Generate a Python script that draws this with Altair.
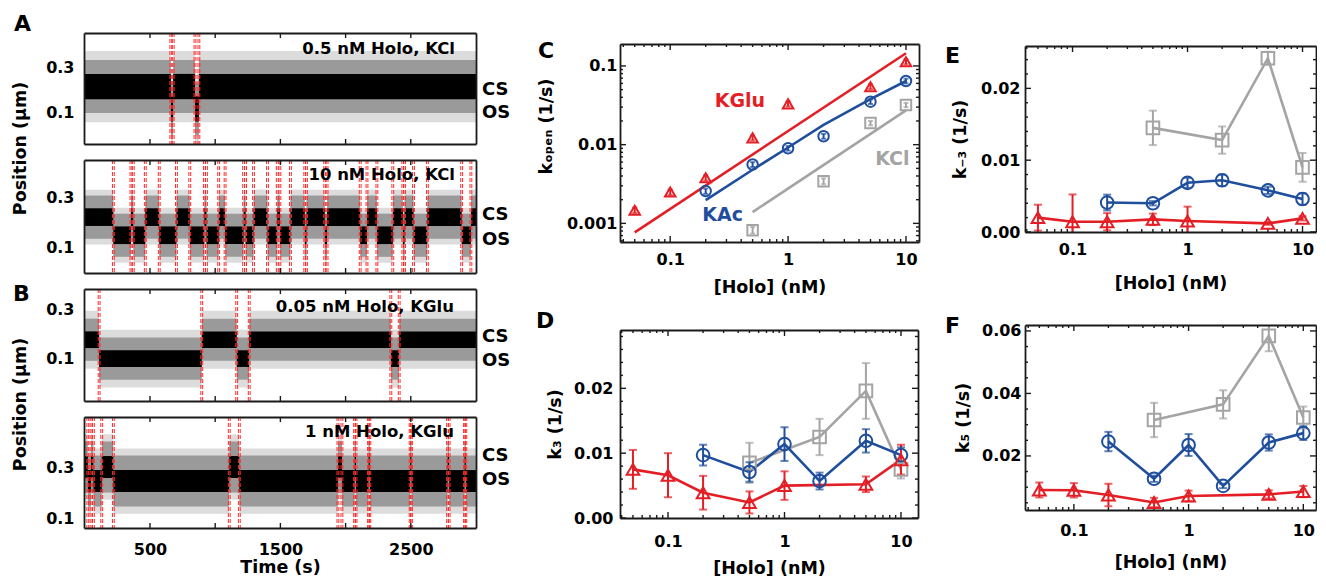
import altair as alt
import pandas as pd

FONT = "DejaVu Sans"
RED = "#e31e25"
BLUE = "#1f4e9d"
GRAY = "#a4a4a4"
TRACE_LIGHT = "#dcdcdc"
TRACE_MID = "#9a9a9a"
SWITCH_RED = "#ff2a2a"
FRAME = "#1a1a1a"

# ---------------- single-molecule traces (A, B) ----------------
TIME_DOMAIN = [-6, 3000]
trace_titles = ["0.5 nM Holo, KCl", "10 nM Holo, KCl", "0.05 nM Holo, KGlu", "1 nM Holo, KGlu"]
# state switch times (s); each trace starts in the closed state (CS) and alternates
switch_a1 = [660, 678, 845, 875]
switch_a2 = [219, 354, 372, 464, 571, 703, 805, 917, 933, 1027, 1076, 1218, 1233, 1294,
             1401, 1476, 1496, 1577, 1687, 1700, 1840, 1858, 2112, 2164, 2240, 2362, 2439,
             2452, 2521, 2627, 2890, 2961]
switch_b1 = [110, 897, 1165, 1261, 2347, 2411]
switch_b2 = [23, 48, 66, 130, 219, 1108, 1185, 1941, 1972, 2069, 2080, 2176, 2186, 2495,
             2505, 2782, 2794, 2912, 2922]
cs_level = [0.215, 0.222, 0.175, 0.300]
os_level = [0.118, 0.148, 0.098, 0.245]
black_half = [0.055, 0.036, 0.034, 0.043]
gray_half = [0.115, 0.088, 0.086, 0.100]
light_half = [0.155, 0.112, 0.118, 0.128]
cs_text_y = [0.200, 0.230, 0.185, 0.344]
os_text_y = [0.100, 0.130, 0.089, 0.249]
trace_y_domain = [[-0.035, 0.448], [-0.006, 0.455], [-0.075, 0.382], [0.061, 0.496]]
trace_y_ticks = [0.1, 0.3]
time_ticks = [500, 1000, 1500, 2000, 2500]
time_labels = [500, 1500, 2500]

# ---------------- rate constants (C-F) ----------------
salts = ["KCl", "KAc", "KGlu"]
salt_colors = [GRAY, BLUE, RED]
salt_shapes = ["square", "circle", "triangle-up"]

holo_kglu = [0.05, 0.1, 0.2, 0.5, 1, 5, 10]
holo_kac = [0.2, 0.5, 1, 2, 5, 10]
holo_kcl = [0.5, 2, 5, 10]

kopen_kglu = [0.00147, 0.0025, 0.0038, 0.0122, 0.033, 0.0545, 0.113]
kopen_kglu_err = [0.00012, 0.0002, 0.0003, 0.0009, 0.0025, 0.004, 0.008]
kopen_kac = [0.00257, 0.0056, 0.0090, 0.0128, 0.0352, 0.0644]
kopen_kac_err = [0.0002, 0.0004, 0.0006, 0.0009, 0.0024, 0.0045]
kopen_kcl = [0.00082, 0.00344, 0.0188, 0.0319]
kopen_kcl_err = [0.00008, 0.0003, 0.0012, 0.002]
fit_kglu_x = [0.05, 10]
fit_kglu_y = [0.00077, 0.145]
fit_kac_x = [0.2, 0.5, 1, 2, 5, 10]
fit_kac_y = [0.00197, 0.0048, 0.0092, 0.0178, 0.0378, 0.0644]
fit_kcl_x = [0.5, 10]
fit_kcl_y = [0.00139, 0.0273]

k3_kglu = [0.0075, 0.0066, 0.0039, 0.0024, 0.0050, 0.0052, 0.0090]
k3_kglu_err = [0.0030, 0.0034, 0.0026, 0.0017, 0.0022, 0.0012, 0.0023]
k3_kac = [0.0097, 0.0071, 0.0114, 0.0057, 0.0119, 0.0097]
k3_kac_err = [0.0016, 0.0015, 0.0026, 0.0013, 0.0018, 0.0012]
k3_kcl = [0.0085, 0.0125, 0.0196, 0.0075]
k3_kcl_err = [0.0031, 0.0028, 0.0043, 0.0014]

km3_kglu = [0.0020, 0.00143, 0.00143, 0.00176, 0.00153, 0.0012, 0.0019]
km3_kglu_err = [0.0018, 0.0038, 0.0012, 0.0008, 0.0020, 0.0002, 0.0003]
km3_kac = [0.0041, 0.0040, 0.00685, 0.0072, 0.0058, 0.0046]
km3_kac_err = [0.0011, 0.0003, 0.0007, 0.0008, 0.0005, 0.0008]
km3_kcl = [0.0145, 0.0128, 0.0242, 0.0090]
km3_kcl_err = [0.0024, 0.0019, 0.0009, 0.0020]

k5_kglu = [0.0091, 0.0090, 0.0075, 0.0051, 0.0072, 0.0077, 0.0086]
k5_kglu_err = [0.0024, 0.0023, 0.0036, 0.0015, 0.0017, 0.0013, 0.0018]
k5_kac = [0.0246, 0.0127, 0.0235, 0.0104, 0.0243, 0.0273]
k5_kac_err = [0.0031, 0.0010, 0.0035, 0.0007, 0.0026, 0.0022]
k5_kcl = [0.0315, 0.0365, 0.0584, 0.0323]
k5_kcl_err = [0.0055, 0.0045, 0.0049, 0.0035]

c_labels = ["KGlu", "KAc", "KCl"]
c_label_salt = ["KGlu", "KAc", "KCl"]
c_label_x = [0.39, 0.278, 7.66]
c_label_y = [0.036, 0.00129, 0.0066]

LOG_X_MAJOR = [0.1, 1, 10]
LOG_X_MINOR = [0.04, 0.05, 0.06, 0.07, 0.08, 0.09, 0.2, 0.3, 0.4, 0.5, 0.6, 0.7, 0.8, 0.9,
               2, 3, 4, 5, 6, 7, 8, 9]
C_Y_MINOR = [0.0006, 0.0007, 0.0008, 0.0009, 0.002, 0.003, 0.004, 0.005, 0.006, 0.007,
             0.008, 0.009, 0.02, 0.03, 0.04, 0.05, 0.06, 0.07, 0.08, 0.09]
D_Y_MINOR = [0.002, 0.004, 0.006, 0.008, 0.012, 0.014, 0.016, 0.018, 0.022, 0.024, 0.026, 0.028]
E_Y_MINOR = [0.002, 0.004, 0.006, 0.008, 0.012, 0.014, 0.016, 0.018, 0.022, 0.024]
F_Y_MINOR = [0.005, 0.01, 0.015, 0.025, 0.03, 0.035, 0.045, 0.05, 0.055]


# ---------------- helpers ----------------
def edge_axis(orient, offset):
    return alt.Axis(orient=orient, offset=offset, labels=False, ticks=False, grid=False,
                    title=None, zindex=1, domain=True)


def axis_layer(xs, ys, x0, y0, xaxis, yaxis):
    pt = pd.DataFrame({"x": [x0], "y": [y0]})
    return alt.Chart(pt).mark_point(opacity=0).encode(
        x=alt.X("x:Q", scale=xs, axis=xaxis),
        y=alt.Y("y:Q", scale=ys, axis=yaxis))


def inward_x_ticks(xs, values, H, T, size):
    df = pd.DataFrame({"v": values})
    out = []
    for y0, y1 in [(H, H - size), (T, T + size)]:
        out.append(alt.Chart(df).mark_rule(color=FRAME, strokeWidth=1.4).encode(
            x=alt.X("v:Q", scale=xs, axis=None), y=alt.value(y0), y2=alt.value(y1)))
    return out


def inward_y_ticks(ys, values, W, size):
    df = pd.DataFrame({"v": values})
    out = []
    for x0, x1 in [(0, size), (W, W - size)]:
        out.append(alt.Chart(df).mark_rule(color=FRAME, strokeWidth=1.4).encode(
            y=alt.Y("v:Q", scale=ys, axis=None), x=alt.value(x0), x2=alt.value(x1)))
    return out


def frame_layers(xs, ys, x0, y0, W, H, T, xlab, ylab):
    return [axis_layer(xs, ys, x0, y0, xlab, ylab),
            axis_layer(xs, ys, x0, y0, edge_axis("bottom", T - H), edge_axis("left", -W))]


def x_label_axis(values=None, fmt="~g", pad=8, title=None, title_y=40):
    kw = dict(orient="bottom", domain=True, ticks=False, tickSize=0, grid=False, zindex=1,
              labelFlush=False, labelOverlap=False)
    if values:
        kw.update(values=values, format=fmt, labelPadding=pad, labels=True)
    else:
        kw.update(labels=False)
    if title:
        kw.update(title=title, titleY=title_y, titleBaseline="alphabetic")
    else:
        kw.update(title=None)
    return alt.Axis(**kw)


def y_label_axis(values, fmt, pad, title=None, title_x=-60, title_y=None):
    kw = dict(orient="left", domain=True, ticks=False, tickSize=0, grid=False, zindex=1,
              values=values, format=fmt, labelPadding=pad, labelOverlap=False,
              labelFlush=False)
    if title:
        kw.update(title=title, titleX=title_x, titleBaseline="middle")
        if title_y is not None:
            kw.update(titleY=title_y)
    else:
        kw.update(title=None)
    return alt.Axis(**kw)


def letter_layer(letter, dx, dy):
    return alt.Chart(pd.DataFrame({"t": [letter]})).mark_text(
        align="left", baseline="alphabetic", fontSize=22, fontWeight="bold", font=FONT,
        color="black").encode(text="t:N", x=alt.value(dx), y=alt.value(dy))


def trace_panel(i, switches, W, H, xlab, ylab, letter=None, ldx=0, ldy=0,
                title_dx=21, title_dy=21):
    xs = alt.Scale(domain=TIME_DOMAIN, nice=False, zero=False)
    ys = alt.Scale(domain=trace_y_domain[i], nice=False, zero=False)
    edges = [TIME_DOMAIN[0]] + switches + [TIME_DOMAIN[1]]
    rows = []
    for k in range(len(edges) - 1):
        c = cs_level[i] if k % 2 == 0 else os_level[i]
        rows.append({"t0": edges[k], "t1": edges[k + 1],
                     "llo": c - light_half[i], "lhi": c + light_half[i],
                     "glo": c - gray_half[i], "ghi": c + gray_half[i],
                     "blo": c - black_half[i], "bhi": c + black_half[i]})
    seg = pd.DataFrame(rows)
    layers = []
    for lo, hi, col in [("llo", "lhi", TRACE_LIGHT), ("glo", "ghi", TRACE_MID),
                        ("blo", "bhi", "black")]:
        layers.append(alt.Chart(seg).mark_rect(color=col, clip=True).encode(
            x=alt.X("t0:Q", scale=xs, axis=None), x2="t1:Q",
            y=alt.Y(f"{lo}:Q", scale=ys, axis=None), y2=f"{hi}:Q"))
    sw = pd.DataFrame({"t": [s + d for s in switches for d in (-7, 7)]})
    layers.append(alt.Chart(sw).mark_rule(color=SWITCH_RED, strokeWidth=1,
                                          strokeDash=[4, 2], clip=True).encode(
        x=alt.X("t:Q", scale=xs, axis=None)))
    layers.append(alt.Chart(pd.DataFrame({"t": [trace_titles[i]]})).mark_text(
        align="right", baseline="alphabetic", fontSize=16.5, fontWeight="bold", font=FONT,
        color="black").encode(text="t:N", x=alt.value(W - title_dx), y=alt.value(title_dy)))
    st = pd.DataFrame({"s": ["CS", "OS"], "y": [cs_text_y[i], os_text_y[i]]})
    layers.append(alt.Chart(st).mark_text(
        align="left", baseline="middle", fontSize=18, fontWeight="bold", font=FONT,
        color="black").encode(text="s:N", x=alt.value(W + 6),
                              y=alt.Y("y:Q", scale=ys, axis=None)))
    layers += inward_x_ticks(xs, time_ticks, H, 0, 5)
    if letter:
        layers.append(letter_layer(letter, ldx, ldy))
    layers += frame_layers(xs, ys, TIME_DOMAIN[0], trace_y_domain[i][0], W, H, 0, xlab, ylab)
    return alt.layer(*layers).resolve_axis(x="independent", y="independent").properties(
        width=W, height=H)


def rate_df(groups):
    rows = []
    for salt, hx, v, e in groups:
        for a, b, c in zip(hx, v, e):
            rows.append({"salt": salt, "holo": a, "k": b, "lo": b - c, "hi": b + c})
    return pd.DataFrame(rows)


cscale = alt.Scale(domain=salts, range=salt_colors)
shscale = alt.Scale(domain=salts, range=salt_shapes)


def rate_panel(df, lines_df, W, H, T, xdom, ydom, ylog, ymaj, yfmt, ymin, ytitle,
               ytx, yty, ylabpad, xlabpad, xty, msize, letter, ldx, ldy,
               text_df=None, cap=8):
    xs = alt.Scale(type="log", domain=xdom, nice=False)
    if ylog:
        ys = alt.Scale(type="log", domain=ydom, range=[H, T], nice=False)
    else:
        ys = alt.Scale(domain=ydom, range=[H, T], nice=False, zero=False)
    color = alt.Color("salt:N", scale=cscale, legend=None)
    X = alt.X("holo:Q", scale=xs, axis=None)
    layers = []
    layers += inward_x_ticks(xs, LOG_X_MAJOR, H, T, 6)
    layers += inward_x_ticks(xs, LOG_X_MINOR, H, T, 3)
    layers += inward_y_ticks(ys, ymaj, W, 6)
    layers += inward_y_ticks(ys, ymin, W, 3)
    layers += [
        alt.Chart(lines_df).mark_line(strokeWidth=2.6, clip=True).encode(
            x=X, y=alt.Y("k:Q", scale=ys, axis=None), color=color, detail="salt:N"),
        alt.Chart(df).mark_rule(strokeWidth=2, clip=True).encode(
            x=X, y=alt.Y("lo:Q", scale=ys, axis=None), y2="hi:Q", color=color),
        alt.Chart(df).mark_tick(orient="horizontal", size=cap, thickness=2, clip=True).encode(
            x=X, y=alt.Y("lo:Q", scale=ys, axis=None), color=color),
        alt.Chart(df).mark_tick(orient="horizontal", size=cap, thickness=2, clip=True).encode(
            x=X, y=alt.Y("hi:Q", scale=ys, axis=None), color=color),
        alt.Chart(df).mark_point(filled=False, strokeWidth=2, size=msize, opacity=1).encode(
            x=X, y=alt.Y("k:Q", scale=ys, axis=None), color=color,
            shape=alt.Shape("salt:N", scale=shscale, legend=None)),
    ]
    if text_df is not None:
        layers.append(alt.Chart(text_df).mark_text(fontSize=19, fontWeight="bold",
                                                   font=FONT).encode(
            x=X, y=alt.Y("k:Q", scale=ys, axis=None), text="txt:N", color=color))
    layers.append(letter_layer(letter, ldx, ldy))
    xlab = x_label_axis(LOG_X_MAJOR, "~g", xlabpad, "[Holo] (nM)", xty)
    ylab = y_label_axis(ymaj, yfmt, ylabpad, ytitle, ytx, yty)
    layers += frame_layers(xs, ys, xdom[0], ydom[0], W, H, T, xlab, ylab)
    return alt.layer(*layers).resolve_axis(x="independent", y="independent").properties(
        width=W, height=H)


# ---------------- build panels ----------------
TW = 392
a1 = trace_panel(0, switch_a1, TW, 111, x_label_axis(),
                 y_label_axis(trace_y_ticks, ".1f", 10, "Position (µm)", -64, 115),
                 letter="A", ldx=-70, ldy=-2, title_dx=21, title_dy=21)
a2 = trace_panel(1, switch_a2, TW, 113, x_label_axis(),
                 y_label_axis(trace_y_ticks, ".1f", 10),
                 title_dx=21, title_dy=20)
b1 = trace_panel(2, switch_b1, TW, 112, x_label_axis(),
                 y_label_axis(trace_y_ticks, ".1f", 10, "Position (µm)", -64, 115),
                 letter="B", ldx=-71, ldy=12, title_dx=22, title_dy=23)
b2 = trace_panel(3, switch_b2, TW, 111,
                 x_label_axis(time_labels, "d", 13, "Time (s)", 44),
                 y_label_axis(trace_y_ticks, ".1f", 10),
                 title_dx=22, title_dy=20)

c_df = rate_df([("KCl", holo_kcl, kopen_kcl, kopen_kcl_err),
                ("KAc", holo_kac, kopen_kac, kopen_kac_err),
                ("KGlu", holo_kglu, kopen_kglu, kopen_kglu_err)])
c_lines = pd.DataFrame(
    [{"salt": "KCl", "holo": a, "k": b} for a, b in zip(fit_kcl_x, fit_kcl_y)] +
    [{"salt": "KAc", "holo": a, "k": b} for a, b in zip(fit_kac_x, fit_kac_y)] +
    [{"salt": "KGlu", "holo": a, "k": b} for a, b in zip(fit_kglu_x, fit_kglu_y)])
c_text = pd.DataFrame({"txt": c_labels, "salt": c_label_salt, "holo": c_label_x,
                       "k": c_label_y})
panel_c = rate_panel(c_df, c_lines, 299, 209, 11, [0.0375, 12.9], [0.00058, 0.19], True,
                     [0.001, 0.01, 0.1], "~g", C_Y_MINOR, "kₒₚₑₙ (1/s)", -74, 93, 3, 9, 50,
                     110, "C", -82, 25, text_df=c_text, cap=5)

d_df = rate_df([("KCl", holo_kcl, k3_kcl, k3_kcl_err),
                ("KAc", holo_kac, k3_kac, k3_kac_err),
                ("KGlu", holo_kglu, k3_kglu, k3_kglu_err)])
panel_d = rate_panel(d_df, d_df, 298, 188, 0, [0.0387, 14.0], [0.0, 0.029], False,
                     [0.0, 0.01, 0.02], ".2f", D_Y_MINOR, "k₃ (1/s)", -65, None, 7, 15, 55,
                     160, "D", -84, -2)

e_df = rate_df([("KCl", holo_kcl, km3_kcl, km3_kcl_err),
                ("KAc", holo_kac, km3_kac, km3_kac_err),
                ("KGlu", holo_kglu, km3_kglu, km3_kglu_err)])
panel_e = rate_panel(e_df, e_df, 291, 199, 13, [0.0386, 13.1], [0.0, 0.0259], False,
                     [0.0, 0.01, 0.02], ".2f", E_Y_MINOR, "k₋₃ (1/s)", -65, None, 5, 9, 56,
                     160, "E", -80, 30)

f_df = rate_df([("KCl", holo_kcl, k5_kcl, k5_kcl_err),
                ("KAc", holo_kac, k5_kac, k5_kac_err),
                ("KGlu", holo_kglu, k5_kglu, k5_kglu_err)])
panel_f = rate_panel(f_df, f_df, 291, 185, 0, [0.0375, 12.9], [0.0027, 0.0619], False,
                     [0.02, 0.04, 0.06], ".2f", F_Y_MINOR, "k₅ (1/s)", -62, None, 4, 12, 57,
                     160, "F", -80, 8)

col1 = alt.vconcat(a1, a2, b1, b2, spacing=16, bounds="flush")
col2 = alt.vconcat(panel_c, panel_d, spacing=88, bounds="flush")
col3 = alt.vconcat(panel_e, panel_f, spacing=93, bounds="flush")

chart = alt.hconcat(col1, col2, col3, spacing=25).properties(
    padding={"left": 2, "top": 5, "right": 0, "bottom": 0}
).configure(font=FONT).configure_view(stroke=None).configure_axis(
    labelFont=FONT, labelFontSize=16, labelFontWeight="bold", labelColor="black",
    titleFont=FONT, titleFontSize=17.5, titleFontWeight="bold", titleColor="black",
    domainColor=FRAME, domainWidth=1.8, tickColor=FRAME, tickWidth=1.4, grid=False)

chart.save("out.html", embed_options={"renderer": "svg", "actions": False})
